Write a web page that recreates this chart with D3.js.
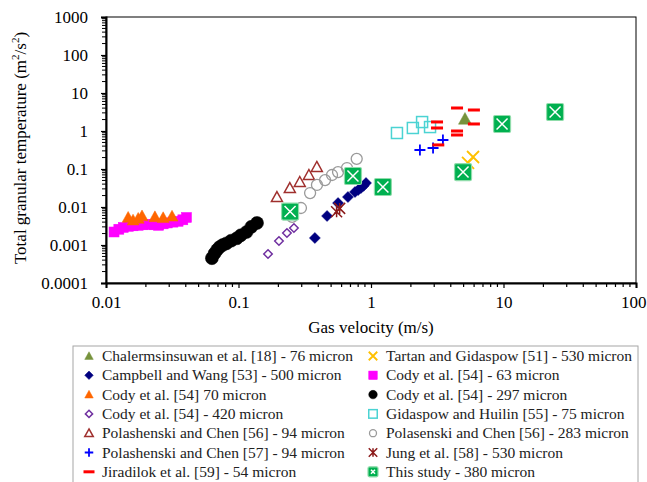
<!DOCTYPE html>
<html><head><meta charset="utf-8">
<script src="https://cdn.jsdelivr.net/npm/d3@7"></script>
<style>body{margin:0;background:#fff;}</style>
</head><body>
<svg id="c" width="647" height="482"></svg>
<script>
// ---- data ----
const chalX = [5.12], chalY = [2.07];
const tartanX = [5.4, 5.89], tartanY = [0.144, 0.207];
const campbellX = [0.377, 0.466, 0.564, 0.67, 0.757, 0.80, 0.84, 0.88, 0.917];
const campbellY = [0.00153, 0.0058, 0.0127, 0.0183, 0.0248, 0.028, 0.0316, 0.036, 0.0428];
const cody63X = [0.0115, 0.0125, 0.0135, 0.0148, 0.016, 0.0175, 0.019, 0.021, 0.023, 0.025, 0.027, 0.029, 0.032, 0.035, 0.038, 0.0405];
const cody63Y = [0.0022, 0.0026, 0.0029, 0.0031, 0.0032, 0.0033, 0.0034, 0.0035, 0.0034, 0.0033, 0.0036, 0.0038, 0.0040, 0.0042, 0.0046, 0.0053];
const cody70X = [0.0147, 0.016, 0.0175, 0.0187, 0.0234, 0.027, 0.0315];
const cody70Y = [0.0053, 0.0045, 0.0050, 0.0058, 0.0055, 0.0052, 0.0057];
const cody297X = [0.063, 0.066, 0.069, 0.072, 0.076, 0.081, 0.088, 0.097, 0.104, 0.115, 0.125, 0.138];
const cody297Y = [0.00045, 0.0006, 0.00075, 0.00088, 0.001, 0.0011, 0.0013, 0.0015, 0.0018, 0.0022, 0.003, 0.0038];
const cody420X = [0.167, 0.202, 0.232, 0.262];
const cody420Y = [0.00058, 0.00127, 0.00207, 0.0028];
const gidaX = [1.57, 2.07, 2.43, 2.79];
const gidaY = [0.886, 1.2, 1.72, 1.27];
const pol94X = [0.195, 0.244, 0.29, 0.34, 0.39];
const pol94Y = [0.0183, 0.0316, 0.0455, 0.0695, 0.113];
const pol283X = [0.254, 0.296, 0.347, 0.391, 0.45, 0.508, 0.564, 0.659, 0.78];
const pol283Y = [0.0055, 0.0094, 0.0233, 0.038, 0.051, 0.0695, 0.083, 0.106, 0.185];
const pol57X = [2.34, 2.94, 3.49];
const pol57Y = [0.316, 0.357, 0.58];
const jungX = [0.55, 0.58];
const jungY = [0.0075, 0.0092];
const jiraX = [4.46, 5.98, 5.98, 3.15, 3.15, 4.46, 4.46, 3.22];
const jiraY = [4.03, 3.57, 1.53, 1.73, 1.2, 1.0, 0.785, 0.43];
const studyX = [0.245, 0.731, 1.23, 4.95, 9.75, 24.5];
const studyY = [0.0076, 0.0655, 0.0336, 0.083, 1.53, 3.16];

const xTicks = [0.01, 0.1, 1, 10, 100];
const xTickLabels = ["0.01", "0.1", "1", "10", "100"];
const yTicks = [0.0001, 0.001, 0.01, 0.1, 1, 10, 100, 1000];
const yTickLabels = ["0.0001", "0.001", "0.01", "0.1", "1", "10", "100", "1000"];

const seriesNames = [
  "Chalermsinsuwan et al. [18] - 76 micron",
  "Tartan and Gidaspow [51] - 530 micron",
  "Campbell and Wang [53] - 500 micron",
  "Cody et al. [54] - 63 micron",
  "Cody et al. [54] 70 micron",
  "Cody et al. [54] - 297 micron",
  "Cody et al. [54] - 420 micron",
  "Gidaspow and Huilin [55] - 75 micron",
  "Polashenski and Chen [56] - 94 micron",
  "Polasenski and Chen [56] - 283 micron",
  "Polashenski and Chen [57] - 94 micron",
  "Jung et al. [58] - 530 micron",
  "Jiradilok et al. [59] - 54 micron",
  "This study - 380 micron"
];

const FONT = "Liberation Serif";

// ---- series table built from arrays ----
const series = [
  {name: seriesNames[0], xs: chalX, ys: chalY, m: "triF", c: "#77933c", s: 13, lx: 0, ly: 0},
  {name: seriesNames[1], xs: tartanX, ys: tartanY, m: "x", c: "#ffc000", s: 12, lx: 1, ly: 0},
  {name: seriesNames[2], xs: campbellX, ys: campbellY, m: "diaF", c: "#000080", s: 11, lx: 0, ly: 1},
  {name: seriesNames[3], xs: cody63X, ys: cody63Y, m: "sqF", c: "#ff00ff", s: 10, lx: 1, ly: 1},
  {name: seriesNames[4], xs: cody70X, ys: cody70Y, m: "triF", c: "#ff6600", s: 12, lx: 0, ly: 2},
  {name: seriesNames[5], xs: cody297X, ys: cody297Y, m: "cirF", c: "#000000", s: 13, lx: 1, ly: 2},
  {name: seriesNames[6], xs: cody420X, ys: cody420Y, m: "diaO", c: "#7030a0", s: 10, lx: 0, ly: 3},
  {name: seriesNames[7], xs: gidaX, ys: gidaY, m: "sqO", c: "#4bd3d3", s: 11, lx: 1, ly: 3},
  {name: seriesNames[8], xs: pol94X, ys: pol94Y, m: "triO", c: "#a0302e", s: 11, lx: 0, ly: 4},
  {name: seriesNames[9], xs: pol283X, ys: pol283Y, m: "cirO", c: "#9a9a9a", s: 12.5, lx: 1, ly: 4},
  {name: seriesNames[10], xs: pol57X, ys: pol57Y, m: "plus", c: "#0000ff", s: 11, lx: 0, ly: 5},
  {name: seriesNames[11], xs: jungX, ys: jungY, m: "star", c: "#8b1a1a", s: 11, lx: 1, ly: 5},
  {name: seriesNames[12], xs: jiraX, ys: jiraY, m: "dash", c: "#ff0000", s: 12, lx: 0, ly: 6},
  {name: seriesNames[13], xs: studyX, ys: studyY, m: "box", c: "#00b050", s: 17, lx: 1, ly: 6}
];

const svg = d3.select("#c");
const L = 106, R = 636, T = 17, B = 283;
const x = d3.scaleLog().domain([0.01, 100]).range([L, R]);
const y = d3.scaleLog().domain([0.0001, 1000]).range([B, T]);

function marker(g, m, c, s) {
  const h = s / 2;
  if (m === "triF" || m === "triO") {
    g.append("path").attr("d", `M0,${-h}L${h},${h*0.8}L${-h},${h*0.8}Z`)
      .attr("fill", m === "triF" ? c : "none").attr("stroke", c).attr("stroke-width", m === "triF" ? 0.5 : 1.5);
  } else if (m === "diaF" || m === "diaO") {
    const hh = m === "diaO" ? h * 0.85 : h;
    g.append("path").attr("d", `M0,${-hh}L${hh},0L0,${hh}L${-hh},0Z`)
      .attr("fill", m === "diaF" ? c : "none").attr("stroke", c).attr("stroke-width", m === "diaF" ? 0.5 : 1.5);
  } else if (m === "sqF" || m === "sqO") {
    g.append("rect").attr("x", -h).attr("y", -h).attr("width", s).attr("height", s)
      .attr("fill", m === "sqF" ? c : "none").attr("stroke", c).attr("stroke-width", m === "sqF" ? 0.5 : 1.5);
  } else if (m === "cirF" || m === "cirO") {
    g.append("circle").attr("r", m === "cirF" ? h : h - 0.75)
      .attr("fill", m === "cirF" ? c : "none").attr("stroke", c).attr("stroke-width", m === "cirF" ? 0.5 : 1.3);
  } else if (m === "x") {
    g.append("path").attr("d", `M${-h},${-h}L${h},${h}M${h},${-h}L${-h},${h}`).attr("stroke", c).attr("stroke-width", 1.8);
  } else if (m === "plus") {
    g.append("path").attr("d", `M${-h},0L${h},0M0,${-h}L0,${h}`).attr("stroke", c).attr("stroke-width", 1.8);
  } else if (m === "star") {
    g.append("path").attr("d", `M${-h},${-h}L${h},${h}M${h},${-h}L${-h},${h}M0,${-h}L0,${h}`).attr("stroke", c).attr("stroke-width", 1.5);
  } else if (m === "dash") {
    g.append("rect").attr("x", -h).attr("y", -1.5).attr("width", s).attr("height", 3).attr("fill", c);
  } else if (m === "box") {
    g.append("rect").attr("x", -h).attr("y", -h).attr("width", s).attr("height", s).attr("rx", 1.5)
      .attr("fill", c).attr("stroke", "#8fdcaa").attr("stroke-width", 1.2);
    const k = h - 3;
    g.append("path").attr("d", `M${-k},${-k}L${k},${k}M${k},${-k}L${-k},${k}`).attr("stroke", "#fff").attr("stroke-width", 1.5);
  }
}

// frame
svg.append("rect").attr("x", L).attr("y", T).attr("width", R - L).attr("height", B - T)
  .attr("fill", "none").attr("stroke", "#000").attr("stroke-width", 1);

// axes
const xAxis = d3.axisBottom(x).tickValues(xTicks).tickFormat((d, i) => xTickLabels[i]).tickSize(5).tickPadding(8);
const gx = svg.append("g").attr("transform", `translate(0,${B})`).call(xAxis);
const yAxis = d3.axisLeft(y).tickValues(yTicks).tickFormat((d, i) => yTickLabels[i]).tickSize(5).tickPadding(13);
const gy = svg.append("g").attr("transform", `translate(${L},0)`).call(yAxis);
[gx, gy].forEach(g => {
  g.attr("font-family", null).attr("font-size", null);
  g.select(".domain").attr("stroke-width", 2);
  g.selectAll("text").attr("font-family", FONT).attr("font-size", 17).attr("fill", "#000");
  g.selectAll(".tick line").attr("stroke-width", 1.2);
});
// keep the last x label inside the picture
gx.selectAll(".tick text").filter(d => d === 100).attr("text-anchor", "end").attr("dx", 10);
// minor ticks
const minorX = [];
for (let e = -2; e < 2; e++) for (let k = 2; k <= 9; k++) minorX.push(k * Math.pow(10, e));
const minorY = [];
for (let e = -4; e < 3; e++) for (let k = 2; k <= 9; k++) minorY.push(k * Math.pow(10, e));
svg.append("g").selectAll("line").data(minorX).join("line")
  .attr("x1", d => x(d)).attr("x2", d => x(d)).attr("y1", B).attr("y2", B + 4).attr("stroke", "#000").attr("stroke-width", 1.2);
svg.append("g").selectAll("line").data(minorY).join("line")
  .attr("y1", d => y(d)).attr("y2", d => y(d)).attr("x1", L).attr("x2", L - 4).attr("stroke", "#000").attr("stroke-width", 1);

// axis titles
svg.append("text").attr("x", (L + R) / 2).attr("y", 333).attr("text-anchor", "middle")
  .attr("font-family", FONT).attr("font-size", 17).text("Gas velocity (m/s)");
const yt = svg.append("text").attr("transform", `translate(26,${(T + B) / 2 - 2}) rotate(-90)`).attr("text-anchor", "middle")
  .attr("font-family", FONT).attr("font-size", 17);
yt.append("tspan").text("Total granular temperature (m");
yt.append("tspan").attr("font-size", 11).attr("dy", -7).text("2");
yt.append("tspan").attr("dy", 7).text("/s");
yt.append("tspan").attr("font-size", 11).attr("dy", -7).text("2");
yt.append("tspan").attr("dy", 7).text(")");

// points
const plot = svg.append("g");
series.forEach(sr => {
  const pts = sr.xs.map((v, i) => [v, sr.ys[i]]);
  plot.append("g").selectAll("g").data(pts).join("g")
    .attr("transform", d => `translate(${x(d[0])},${y(d[1])})`)
    .each(function () { marker(d3.select(this), sr.m, sr.c, sr.s); });
});

// legend
const lg = svg.append("g");
lg.append("rect").attr("x", 73).attr("y", 346).attr("width", 565).attr("height", 145)
  .attr("fill", "#fff").attr("stroke", "#a6a6a6").attr("stroke-width", 1);
series.forEach(sr => {
  const mx = sr.lx === 0 ? 89 : 373;
  const yy = 356 + sr.ly * 19.3;
  const g = lg.append("g").attr("transform", `translate(${mx},${yy})`);
  marker(g, sr.m, sr.c, sr.m === "box" ? 10 : (sr.m === "dash" ? 11 : 8.5));
  lg.append("text").attr("x", mx + 13).attr("y", yy + 5).attr("font-family", FONT).attr("font-size", 15.5).attr("fill", "#222").text(sr.name);
});
</script>
</body></html>
